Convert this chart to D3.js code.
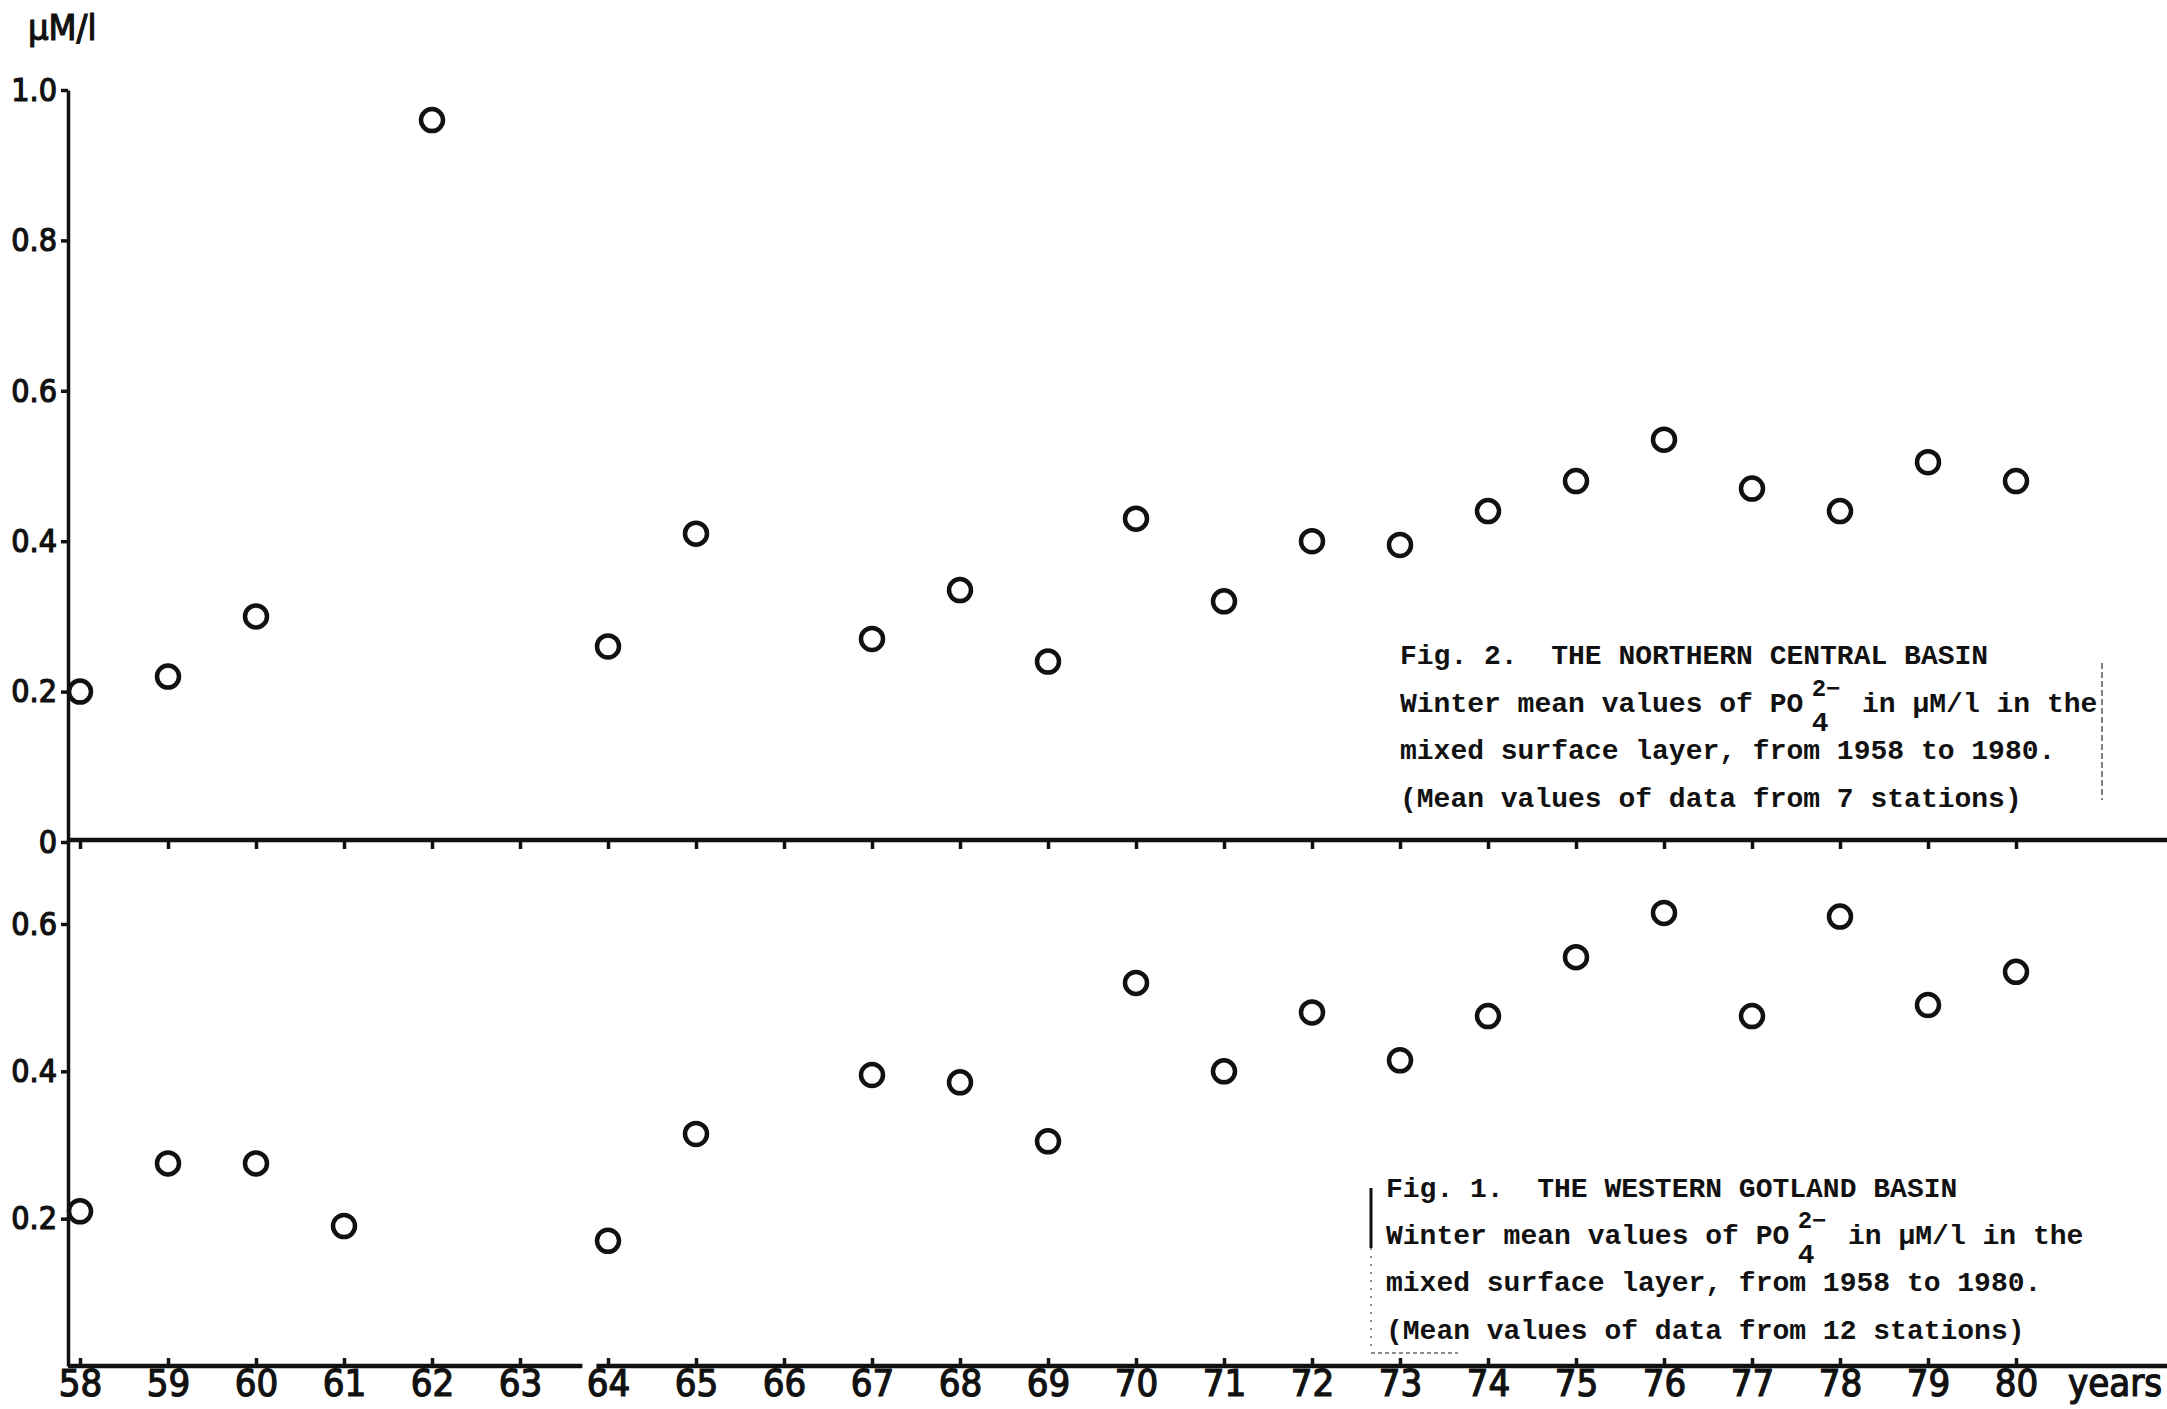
<!DOCTYPE html>
<html>
<head>
<meta charset="utf-8">
<script src="https://cdn.jsdelivr.net/npm/d3@7"></script>
<style>
  body { margin: 0; background: #fff; }
  .hand { font-family: "Liberation Sans Narrow", "DejaVu Sans Condensed", "Roboto Condensed", sans-serif; fill: #111; stroke: #111; stroke-width: 1.2px; }
  .typed { font-family: "Liberation Mono", "DejaVu Sans Mono", monospace; font-weight: bold; font-size: 28px; fill: #111; }
</style>
</head>
<body>
<script>
// data: winter mean PO4 (uM/l), Northern Central Basin (Fig. 2, top panel)
var northYears  = [58, 59, 60, 62, 64, 65, 67, 68, 69, 70, 71, 72, 73, 74, 75, 76, 77, 78, 79, 80];
var northValues = [0.20, 0.22, 0.30, 0.96, 0.26, 0.41, 0.27, 0.335, 0.24, 0.43, 0.32, 0.40, 0.395, 0.44, 0.48, 0.535, 0.47, 0.44, 0.505, 0.48];

// data: Western Gotland Basin (Fig. 1, bottom panel)
var westYears  = [58, 59, 60, 61, 64, 65, 67, 68, 69, 70, 71, 72, 73, 74, 75, 76, 77, 78, 79, 80];
var westValues = [0.21, 0.275, 0.275, 0.19, 0.17, 0.315, 0.395, 0.385, 0.305, 0.52, 0.40, 0.48, 0.415, 0.475, 0.555, 0.615, 0.475, 0.61, 0.49, 0.535];

// tick labels
var yearTicks  = [58, 59, 60, 61, 62, 63, 64, 65, 66, 67, 68, 69, 70, 71, 72, 73, 74, 75, 76, 77, 78, 79, 80];
var yearLabels = ["58", "59", "60", "61", "62", "63", "64", "65", "66", "67", "68", "69", "70", "71", "72", "73", "74", "75", "76", "77", "78", "79", "80"];
var northTicks  = [0, 0.2, 0.4, 0.6, 0.8, 1.0];
var northLabels = ["0", "0.2", "0.4", "0.6", "0.8", "1.0"];
var westTicks  = [0.2, 0.4, 0.6];
var westLabels = ["0.2", "0.4", "0.6"];

// caption texts
var northNote = ["Fig. 2.  THE NORTHERN CENTRAL BASIN", "Winter mean values of PO", "in \u03bcM/l in the",
                 "mixed surface layer, from 1958 to 1980.", "(Mean values of data from 7 stations)"];
var westNote  = ["Fig. 1.  THE WESTERN GOTLAND BASIN", "Winter mean values of PO", "in \u03bcM/l in the",
                 "mixed surface layer, from 1958 to 1980.", "(Mean values of data from 12 stations)"];

// svg container
var svgWidth = 2167;
var svgHeight = 1409;
var axisX = 68;
var ink = "#111";

var svg = d3.select("body").append("svg")
    .attr("width", svgWidth)
    .attr("height", svgHeight);

// scales
var xScale = d3.scaleLinear().domain([58, 80]).range([80, 2016]);
var yTop = d3.scaleLinear().domain([0, 1]).range([842, 90]);
var yBot = d3.scaleLinear().domain([0, 0.714]).range([1366, 840]);

// y axes (one continuous line, two scales)
function styleAxis(g, size) {
    g.selectAll("path, line").attr("stroke", ink).attr("stroke-width", 3.5);
    g.selectAll("text").attr("class", "hand").attr("font-size", size).attr("fill", ink);
    g.attr("font-family", null).attr("font-size", null);
}

var leftTop = d3.axisLeft(yTop)
    .tickValues(northTicks)
    .tickFormat((d, i) => northLabels[i])
    .tickSize(7).tickSizeOuter(0).tickPadding(4);
svg.append("g").attr("transform", `translate(${axisX},0)`).call(leftTop).call(g => styleAxis(g, 32));

var leftBot = d3.axisLeft(yBot)
    .tickValues(westTicks)
    .tickFormat((d, i) => westLabels[i])
    .tickSize(7).tickSizeOuter(0).tickPadding(4);
svg.append("g").attr("transform", `translate(${axisX},0)`).call(leftBot).call(g => styleAxis(g, 32));

// middle axis (zero line of top panel), ticks pointing down
var midAxis = d3.axisBottom(xScale).tickValues(yearTicks).tickFormat("").tickSize(9).tickSizeOuter(0);
var midG = svg.append("g").attr("transform", `translate(0,${yTop(0) - 2})`).call(midAxis).call(g => styleAxis(g, 40));
midG.select(".domain").remove();
midG.append("line")
    .attr("x1", axisX).attr("x2", svgWidth)
    .attr("stroke", ink).attr("stroke-width", 4.5);

// bottom axis, ticks pointing up, labels below, with a small break
var botAxis = d3.axisBottom(xScale)
    .tickValues(yearTicks)
    .tickFormat((d, i) => yearLabels[i])
    .tickSize(-8).tickSizeOuter(0).tickPadding(3);
var botG = svg.append("g").attr("transform", `translate(0,${yBot(0)})`).call(botAxis).call(g => styleAxis(g, 38));
botG.select(".domain").remove();
var breakX = xScale(63.8);
[[axisX, breakX - 8], [breakX + 6, svgWidth]].forEach(s => {
    botG.append("line")
        .attr("x1", s[0]).attr("x2", s[1])
        .attr("stroke", ink).attr("stroke-width", 4.5);
});
botG.append("text")
    .attr("class", "hand")
    .attr("x", 2068).attr("y", 3).attr("dy", "0.71em")
    .attr("text-anchor", "start")
    .attr("font-size", 38)
    .text("years");

// unit label
svg.append("text")
    .attr("class", "hand")
    .attr("x", 28).attr("y", 40)
    .attr("font-size", 36)
    .text("\u03bcM/l");

// points
function drawPoints(years, values, y) {
    svg.append("g").selectAll("circle")
        .data(years)
        .enter()
        .append("circle")
        .attr("cx", d => xScale(d))
        .attr("cy", (d, i) => y(values[i]))
        .attr("r", 11)
        .attr("fill", "none")
        .attr("stroke", ink)
        .attr("stroke-width", 4.5);
}
drawPoints(northYears, northValues, yTop);
drawPoints(westYears, westValues, yBot);

// captions, with stacked PO4 2- in the second line
function drawNote(lines, x0, baselines) {
    var g = svg.append("g").attr("class", "typed");
    g.append("text").attr("x", x0).attr("y", baselines[0]).attr("xml:space", "preserve").text(lines[0]);
    var pre = g.append("text").attr("x", x0).attr("y", baselines[1]).text(lines[1]);
    var preLen = pre.node().getComputedTextLength();
    var cw = preLen / lines[1].length;
    var sx = x0 + preLen + cw * 0.5;
    g.append("text").attr("x", sx).attr("y", baselines[1] - 16).attr("font-size", 24).text("2\u2212");
    g.append("text").attr("x", sx).attr("y", baselines[1] + 19).text("4");
    g.append("text").attr("x", x0 + preLen + cw * 3.5).attr("y", baselines[1]).text(lines[2]);
    g.append("text").attr("x", x0).attr("y", baselines[2]).text(lines[3]);
    g.append("text").attr("x", x0).attr("y", baselines[3]).text(lines[4]);
}
drawNote(northNote, 1400, [664, 712, 759, 807]);
drawNote(westNote, 1386, [1197, 1244, 1291, 1339]);

// edge marks left on the pasted captions
svg.append("line")
    .attr("x1", 2102).attr("x2", 2102).attr("y1", 663).attr("y2", 800)
    .attr("stroke", "#555").attr("stroke-width", 1.5).attr("stroke-dasharray", "6,3");
svg.append("line")
    .attr("x1", 1371).attr("x2", 1371).attr("y1", 1188).attr("y2", 1248)
    .attr("stroke", ink).attr("stroke-width", 3);
svg.append("line")
    .attr("x1", 1371).attr("x2", 1371).attr("y1", 1248).attr("y2", 1347)
    .attr("stroke", "#666").attr("stroke-width", 1.5).attr("stroke-dasharray", "2,6");
svg.append("line")
    .attr("x1", 1371).attr("x2", 1458).attr("y1", 1353).attr("y2", 1353)
    .attr("stroke", "#666").attr("stroke-width", 1.5).attr("stroke-dasharray", "4,3");
</script>
</body>
</html>
